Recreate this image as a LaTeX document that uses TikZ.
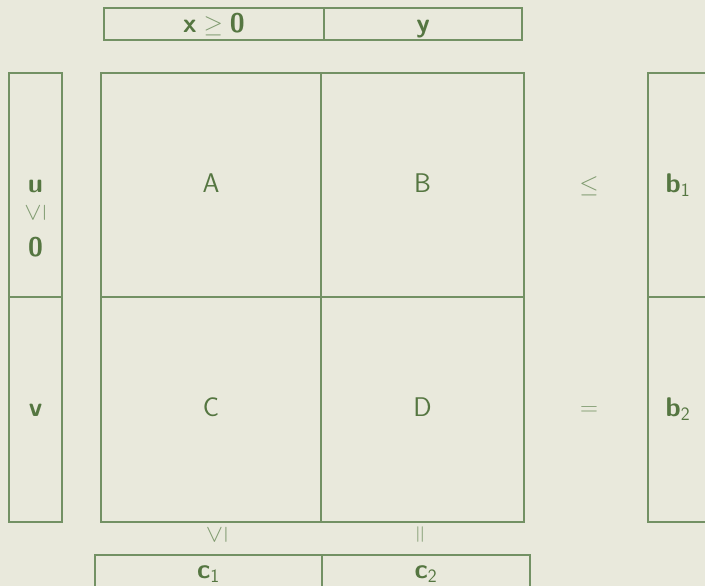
\documentclass[tikz,border=0pt]{standalone}
\usepackage{tikz}
\usetikzlibrary{positioning}
\definecolor{bgbeige}{RGB}{233,233,220}
\definecolor{cellline}{RGB}{115,145,100}
\definecolor{labelgreen}{RGB}{85,118,65}
\definecolor{relgreen}{RGB}{128,155,112}

\begin{document}
\begin{tikzpicture}[x=1pt, y=-1pt,
    every node/.style={font=\fontsize{27}{32}\selectfont\sffamily, text=labelgreen},
    cell/.style={rectangle, draw=cellline, line width=1.2pt, inner sep=0pt},
    topcell/.style={cell, minimum height=32pt, text height=20pt, text depth=2pt},
    botcell/.style={cell, minimum height=32pt, text height=20pt, text depth=6pt},
    block/.style={cell, text height=19pt, text depth=5pt},
    vec/.style={font=\fontsize{27}{32}\selectfont\sffamily\bfseries},
    rel/.style={text=relgreen, inner sep=0pt}
]
    \useasboundingbox[fill=bgbeige] (0,0) rectangle (705,586);

    % top: variables
    \node[topcell, minimum width=220pt] (xvar) at (214,24) {$\textbf{x}\mathrel{\color{relgreen}\geq}\textbf{0}$};
    \node[topcell, minimum width=198pt] (yvar) at (423,24) {\bfseries y};

    % left: multipliers
    \node[cell, minimum width=53pt, minimum height=224pt] (ucell) at (35.5,185) {};
    \node[block, minimum width=53pt, minimum height=225pt] (vcell) at (35.5,409.5) {\bfseries v};
    \node[vec] (u) at (35.5,186) {u};
    \node[rel, rotate=90] (ugeq) at (35.5,213) {$\leq$};
    \node[vec] (uzero) at (35.5,247) {0};

    % matrix blocks
    \node[block, minimum width=220pt, minimum height=224pt] (A) at (211,185) {A};
    \node[block, minimum width=203pt, minimum height=224pt] (B) at (422.5,185) {B};
    \node[block, minimum width=220pt, minimum height=225pt] (C) at (211,409.5) {C};
    \node[block, minimum width=203pt, minimum height=225pt] (D) at (422.5,409.5) {D};

    % right: relations and rhs
    \node[rel] (leq) at (589,186) {$\leq$};
    \node[rel] (eq) at (589,411) {$=$};
    \node[block, minimum width=60pt, minimum height=224pt] (b1) at (678,185) {{\bfseries b}\textsubscript{1}};
    \node[block, minimum width=60pt, minimum height=225pt] (b2) at (678,409.5) {{\bfseries b}\textsubscript{2}};

    % bottom: relations and costs
    \node[rel, rotate=90] (cgeq) at (217,535) {$\leq$};
    \node[rel, rotate=90] (ceq) at (422,535) {$=$};
    \node[botcell, minimum width=227pt] (c1) at (208.5,571) {{\bfseries c}\textsubscript{1}};
    \node[botcell, minimum width=208pt] (c2) at (426,571) {{\bfseries c}\textsubscript{2}};
\end{tikzpicture}
\end{document}
